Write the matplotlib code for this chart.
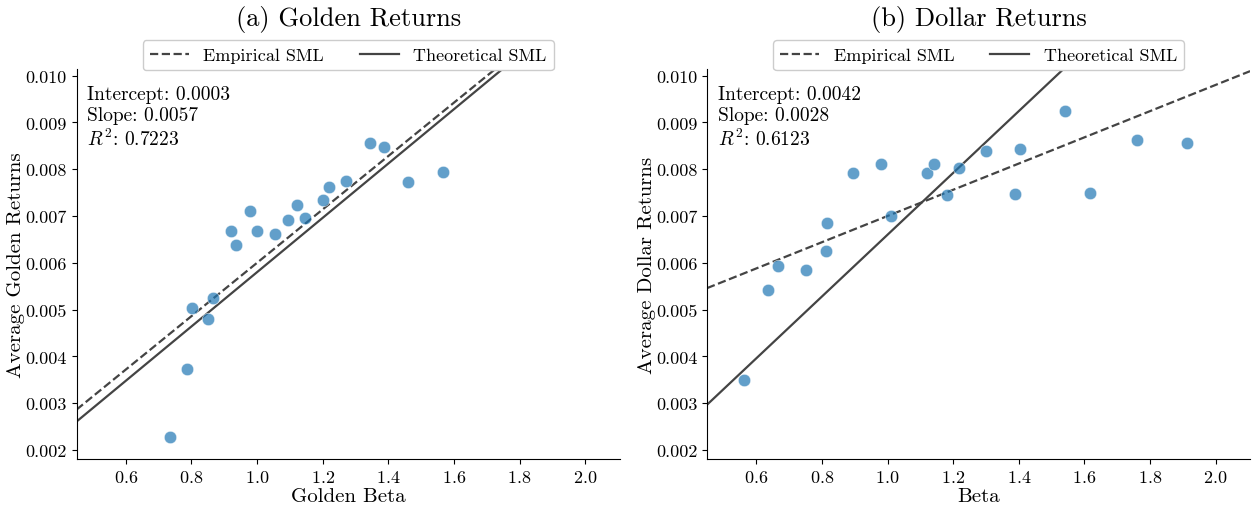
import numpy as np
import matplotlib
matplotlib.use("Agg")
import matplotlib.pyplot as plt

plt.rcParams.update({
    "font.family": "serif",
    "font.serif": ["cmr10"],
    "mathtext.fontset": "cm",
    "axes.formatter.use_mathtext": True,
    "axes.unicode_minus": False,
})

# (a) golden returns
gold_beta = [0.734, 0.786, 0.803, 0.851, 0.865, 0.920, 0.936, 0.980, 0.999, 1.056,
             1.095, 1.121, 1.145, 1.202, 1.218, 1.272, 1.344, 1.387, 1.461, 1.566]
gold_ret = [0.00229, 0.00373, 0.00504, 0.00479, 0.00524, 0.00669, 0.00637, 0.00711, 0.00667, 0.00662,
            0.00691, 0.00724, 0.00696, 0.00735, 0.00762, 0.00775, 0.00856, 0.00848, 0.00772, 0.00794]
gold_emp = (0.0003, 0.0057)      # intercept, slope
gold_theo = (0.0, 0.0058)
gold_r2 = 0.7223

# (b) dollar returns
usd_beta = [0.563, 0.635, 0.666, 0.750, 0.812, 0.816, 0.894, 0.980, 1.010, 1.120,
            1.141, 1.180, 1.219, 1.301, 1.388, 1.405, 1.541, 1.617, 1.761, 1.912]
usd_ret = [0.00350, 0.00542, 0.00593, 0.00585, 0.00625, 0.00686, 0.00792, 0.00810, 0.00701, 0.00792,
           0.00811, 0.00745, 0.00803, 0.00838, 0.00748, 0.00844, 0.00925, 0.00749, 0.00863, 0.00855]
usd_emp = (0.0042, 0.0028)
usd_theo = (0.0, 0.0066)
usd_r2 = 0.6123

XLIM = (0.45, 2.105)
YLIM = (0.00181, 0.01014)
LINE_C = "#444444"

fig = plt.figure(figsize=(12.53, 5.06), dpi=100)
ax1 = fig.add_axes([0.0611, 0.0909, 0.4334, 0.7708])
ax2 = fig.add_axes([0.5643, 0.0909, 0.4334, 0.7708])

panels = [
    (ax1, gold_beta, gold_ret, gold_emp, gold_theo, gold_r2,
     "(a) Golden Returns", "Golden Beta", "Average Golden Returns"),
    (ax2, usd_beta, usd_ret, usd_emp, usd_theo, usd_r2,
     "(b) Dollar Returns", "Beta", "Average Dollar Returns"),
]

for ax, b, r, emp, theo, r2, title, xl, yl in panels:
    xs = np.array(XLIM)
    ax.scatter(b, r, s=80, color="tab:blue", alpha=0.7, edgecolor="white", linewidth=0.5, zorder=3)
    ax.plot(xs, emp[0] + emp[1] * xs, ls="--", color=LINE_C, lw=1.6, label="Empirical SML")
    ax.plot(xs, theo[0] + theo[1] * xs, ls="-", color=LINE_C, lw=1.6, label="Theoretical SML")
    ax.set_xlim(XLIM)
    ax.set_ylim(YLIM)
    ax.set_xticks([0.6, 0.8, 1.0, 1.2, 1.4, 1.6, 1.8, 2.0])
    ax.set_yticks(np.arange(0.002, 0.0105, 0.001))
    ax.yaxis.set_major_formatter(matplotlib.ticker.FormatStrFormatter("%.3f"))
    ax.tick_params(labelsize=13)
    ax.spines["top"].set_visible(False)
    ax.spines["right"].set_visible(False)
    ax.set_title(title, fontsize=19, pad=32)
    ax.set_xlabel(xl, fontsize=15, labelpad=2)
    ax.set_ylabel(yl, fontsize=15, labelpad=0)
    ax.text(0.02, 0.958, f"Intercept: {emp[0]:.4f}\nSlope: {emp[1]:.4f}\n$R^2$: {r2:.4f}",
            transform=ax.transAxes, ha="left", va="top", fontsize=14, linespacing=1.2)
    ax.legend(loc="center", bbox_to_anchor=(0.5, 1.035), ncol=2, fontsize=13,
              handlelength=2.15, columnspacing=2.0, framealpha=1)

fig.savefig("out.png", facecolor="white")
